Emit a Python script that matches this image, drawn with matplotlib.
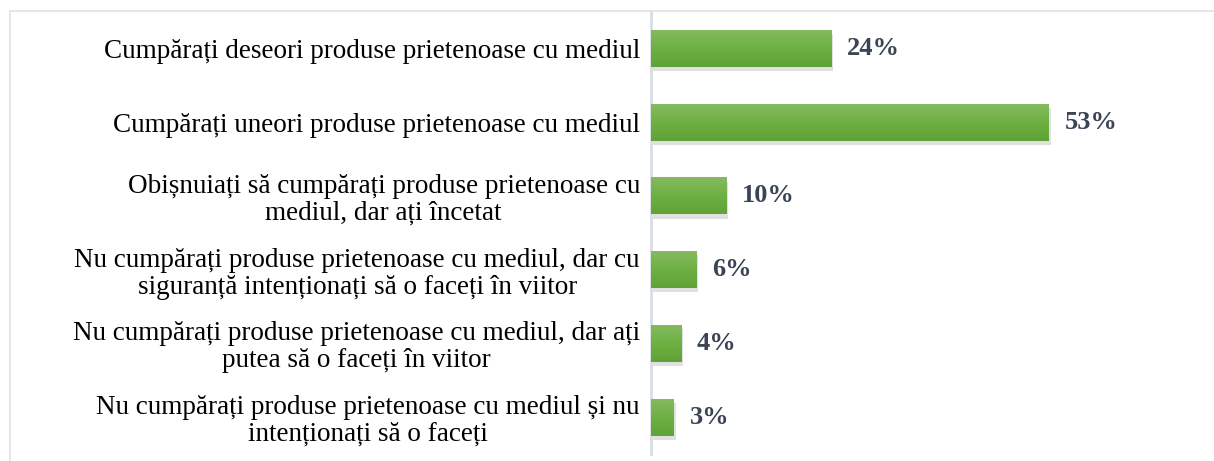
import numpy as np
import matplotlib
matplotlib.use('Agg')
import matplotlib.pyplot as plt
import matplotlib.patheffects as pe
from matplotlib.lines import Line2D
from matplotlib.colors import LinearSegmentedColormap

# Date
categories = [
    'Cumpărați deseori produse prietenoase cu mediul',
    'Cumpărați uneori produse prietenoase cu mediul',
    'Obișnuiați să cumpărați produse prietenoase cu\nmediul, dar ați încetat',
    'Nu cumpărați produse prietenoase cu mediul, dar cu\nsiguranță intenționați să o faceți în viitor',
    'Nu cumpărați produse prietenoase cu mediul, dar ați\nputea să o faceți în viitor',
    'Nu cumpărați produse prietenoase cu mediul și nu\nintenționați să o faceți',
]
values = [24, 53, 10, 6, 4, 3]
value_labels = ['24%', '53%', '10%', '6%', '4%', '3%']

W, H, DPI = 1214, 461, 100
FONT = 'Liberation Serif'

fig = plt.figure(figsize=(W / DPI, H / DPI), dpi=DPI)
fig.patch.set_facecolor('white')

# chenar exterior (tăiat la dreapta și jos)
frame_c = '#dfe2e6'
fig.add_artist(Line2D([10 / W, 1], [1 - 11 / H, 1 - 11 / H], transform=fig.transFigure,
                      color=frame_c, lw=1.2))
fig.add_artist(Line2D([10 / W, 10 / W], [0, 1 - 11 / H], transform=fig.transFigure,
                      color=frame_c, lw=1.2))

left, top, bottom = 651 / W, 11.6 / H, 454 / H
ax = fig.add_axes([left, 1 - bottom, 1 - left, (bottom - top)])

y = np.arange(len(categories))
px_per_unit = 398 / 53
ax.set_xlim(0, (W - 651) / px_per_unit)
ax.set_ylim(len(categories) - 0.5, -0.5)

bars = ax.barh(y, values, height=0.5, color='#6dae42', zorder=2)
grad = np.linspace(0, 1, 64).reshape(-1, 1)
cm = LinearSegmentedColormap.from_list('g', ['#84ba60', '#6eb042', '#5fa236'])
for b in bars:
    b.set_path_effects([pe.SimplePatchShadow(offset=(1.5, -3), shadow_rgbFace='#999999', alpha=0.3),
                        pe.Normal()])
    x0, y0, w, h = b.get_x(), b.get_y(), b.get_width(), b.get_height()
    # axa y este inversată: y0 este sus
    im = ax.imshow(grad, cmap=cm, aspect='auto', extent=(x0, x0 + w, y0 + h, y0),
                   origin='upper', zorder=3)
    im.set_clip_path(b)

for b, lab in zip(bars, value_labels):
    ax.annotate(lab, (b.get_width(), b.get_y() + b.get_height() / 2),
                xytext=(11.5, 0), textcoords='offset points', va='center', ha='left',
                fontsize=19, fontweight='bold', color='#3b4455', family=FONT)

ax.set_yticks(y)
ax.set_yticklabels(categories, fontsize=19.5, family=FONT, color='black')
for t in ax.get_yticklabels():
    t.set_multialignment('center')
    t.set_linespacing(1.1)
ax.tick_params(axis='y', length=0, pad=8)
ax.set_xticks([])

for s in ['top', 'right', 'bottom']:
    ax.spines[s].set_visible(False)
ax.spines['left'].set_color('#d8dde5')
ax.spines['left'].set_linewidth(2)
ax.set_facecolor('none')

fig.savefig('out.png', dpi=DPI)
